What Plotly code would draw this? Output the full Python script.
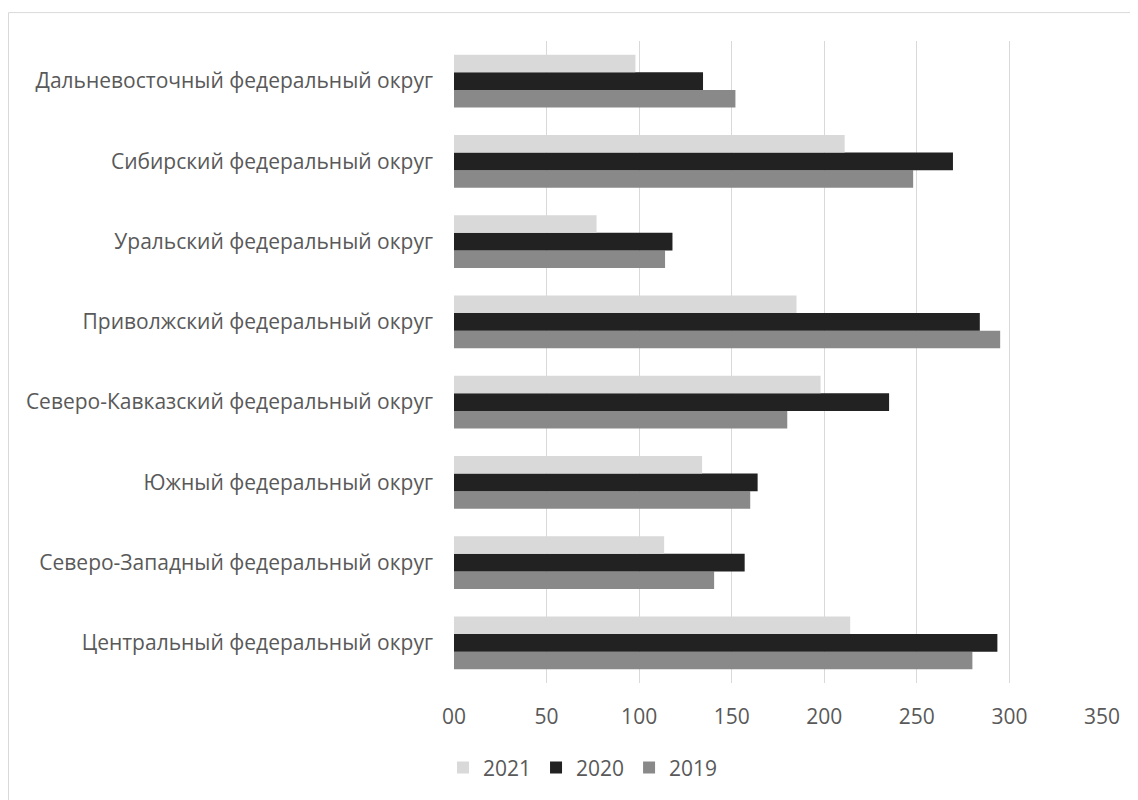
import plotly.graph_objects as go

categories = [
    "Центральный федеральный округ",
    "Северо-Западный федеральный округ",
    "Южный федеральный округ",
    "Северо-Кавказский федеральный округ",
    "Приволжский федеральный округ",
    "Уральский федеральный округ",
    "Сибирский федеральный округ",
    "Дальневосточный федеральный округ",
]
values_2021 = [214, 113.5, 134, 198, 185, 77, 211, 98]
values_2020 = [293.5, 157, 164, 235, 284, 118, 269.5, 134.5]
values_2019 = [280, 140.5, 160, 180, 295, 114, 248, 152]

tick_vals = [0, 50, 100, 150, 200, 250, 300, 350]
tick_text = ["00", "50", "100", "150", "200", "250", "300", "350"]

# page body has an 8px margin, so figure coordinates = screen - 8
W, H = 1130, 792
L, R, T, B = 446, 36, 33, 115
pw, ph = W - L - R, H - T - B

fig = go.Figure()
for name, vals, col in [("2019", values_2019, "#898989"),
                        ("2020", values_2020, "#222222"),
                        ("2021", values_2021, "#d9d9d9")]:
    fig.add_trace(go.Bar(y=categories, x=vals, name=name, orientation="h",
                         marker=dict(color=col, line=dict(width=0))))

def px_x(p):
    return (p - L) / pw

def px_y(p):
    return (H - B - p) / ph

fig.update_layout(
    width=W, height=H,
    margin=dict(l=L, r=R, t=T, b=B),
    paper_bgcolor="white", plot_bgcolor="white",
    barmode="group", bargap=0.34, bargroupgap=0,
    font=dict(family="Open Sans", size=21, color="#595959"),
    showlegend=True,
    legend=dict(orientation="h", traceorder="reversed",
                x=px_x(575), xanchor="center", y=px_y(762), yanchor="middle",
                font=dict(size=21, color="#595959"), itemwidth=30,
                tracegroupgap=0),
    xaxis=dict(range=[0, 350], tickvals=tick_vals, ticktext=tick_text,
               showgrid=True, gridcolor="#d9d9d9", gridwidth=1,
               zeroline=False, showline=False, ticks="",
               ticklabelstandoff=19),
    yaxis=dict(categoryorder="array", categoryarray=categories,
               showgrid=False, zeroline=False, showline=False, ticks="",
               ticklabelstandoff=20),
    shapes=[dict(type="rect", xref="paper", yref="paper",
                 x0=px_x(0.5), x1=px_x(1140), y0=px_y(805), y1=px_y(4.5),
                 line=dict(color="#d9d9d9", width=1), fillcolor="rgba(0,0,0,0)",
                 layer="below")],
)

fig.write_html("out.html")
